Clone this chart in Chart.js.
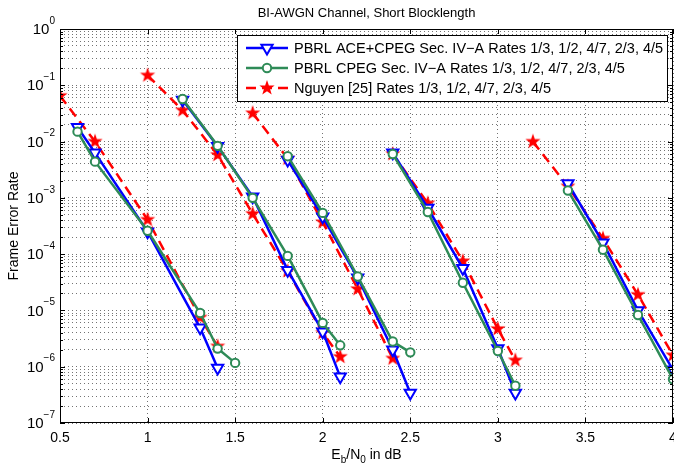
<!DOCTYPE html>
<html>
<head>
<meta charset="utf-8">
<script src="https://cdn.jsdelivr.net/npm/chart.js@4.4.1/dist/chart.umd.min.js"></script>
<style>
  html, body { margin: 0; padding: 0; background: #fff; }
  #fer { display: block; }
</style>
</head>
<body>
<canvas id="fer" width="674" height="468"></canvas>
<script>
const FONT = '"Liberation Sans", Arial, Helvetica, sans-serif';

// one inner array per code rate: 1/3, 1/2, 4/7, 2/3, 4/5
const rates = ["1/3", "1/2", "4/7", "2/3", "4/5"];

const aceSnr = [[0.6, 0.7, 1.0, 1.3, 1.4], [1.2, 1.4, 1.6, 1.8, 2.0, 2.1], [1.8, 2.0, 2.2, 2.4, 2.5], [2.4, 2.6, 2.8, 3.0, 3.1], [3.4, 3.6, 3.8, 4.0]];
const aceFer = [[1.8e-2, 6.3e-3, 2.5e-4, 4.9e-6, 9.5e-7], [5.5e-2, 8.3e-3, 1.05e-3, 5.2e-5, 4.2e-6, 6.6e-7], [4.7e-3, 4.6e-4, 3.8e-5, 2.0e-6, 3.4e-7], [6.3e-3, 6.6e-4, 5.6e-5, 2.1e-6, 3.4e-7], [1.8e-3, 1.6e-4, 1.0e-5, 8.8e-7]];

const cpegSnr = [[0.6, 0.7, 1.0, 1.3, 1.4, 1.5], [1.2, 1.4, 1.6, 1.8, 2.0, 2.1], [1.8, 2.0, 2.2, 2.4, 2.5], [2.4, 2.6, 2.8, 3.0, 3.1], [3.4, 3.6, 3.8, 4.0]];
const cpegFer = [[1.5e-2, 4.4e-3, 2.6e-4, 9.0e-6, 2.1e-6, 1.17e-6], [5.7e-2, 8.4e-3, 1.0e-3, 9.3e-5, 6.0e-6, 2.4e-6], [5.5e-3, 5.4e-4, 4.0e-5, 2.8e-6, 1.8e-6], [6.0e-3, 5.6e-4, 3.1e-5, 1.9e-6, 4.6e-7], [1.35e-3, 1.2e-4, 8.3e-6, 6.0e-7]];

const nguyenSnr = [[0.5, 0.7, 1.0, 1.3, 1.4], [1.0, 1.2, 1.4, 1.6, 1.8, 2.0, 2.1], [1.6, 1.8, 2.0, 2.2, 2.4], [2.4, 2.6, 2.8, 3.0, 3.1], [3.2, 3.4, 3.6, 3.8, 4.0]];
const nguyenFer = [[6.5e-2, 1.0e-2, 4.1e-4, 7.5e-6, 2.3e-6], [0.15, 3.6e-2, 5.8e-3, 5.2e-4, 5.0e-5, 4.0e-6, 1.5e-6], [3.2e-2, 5.0e-3, 3.7e-4, 2.4e-5, 1.4e-6], [6.0e-3, 8.0e-4, 7.5e-5, 4.7e-6, 1.3e-6], [1.0e-2, 1.6e-3, 1.9e-4, 1.9e-5, 1.6e-6]];

const xTicks = [0.5, 1, 1.5, 2, 2.5, 3, 3.5, 4];
const yDecades = [0, -1, -2, -3, -4, -5, -6, -7];

const rateText = " Rates " + rates.join(", ");
const labels = [
  "PBRL ACE+CPEG Sec. IV\u2212A" + rateText,
  "PBRL CPEG Sec. IV\u2212A" + rateText,
  "Nguyen [25]" + rateText
];

// put each rate curve after the other, broken by a null point
function joinCurves(snr, fer) {
  const pts = [];
  snr.forEach((xs, i) => {
    xs.forEach((x, j) => pts.push({x: x, y: fer[i][j]}));
    pts.push({x: xs[xs.length - 1], y: null});
  });
  return pts;
}

function starImage(r, color) {
  const c = document.createElement("canvas");
  const s = Math.ceil(2 * r + 2);
  c.width = s; c.height = s;
  const g = c.getContext("2d");
  g.beginPath();
  for (let i = 0; i < 10; i++) {
    const a = -Math.PI / 2 + i * Math.PI / 5;
    const rr = i % 2 ? r * 0.4 : r;
    g.lineTo(s / 2 + rr * Math.cos(a), s / 2 + rr * Math.sin(a));
  }
  g.closePath();
  g.fillStyle = color;
  g.fill();
  return c;
}
const star = starImage(8, "#ff0000");

const yGrid = [];
for (let k = -7; k < 0; k++) {
  for (let m = 1; m <= 9; m++) yGrid.push(m * Math.pow(10, k));
}
yGrid.push(1);

const blue = "#0000ff", green = "#2e8b57", red = "#ff0000";

const datasets = [
  {
    label: labels[0], data: joinCurves(aceSnr, aceFer), order: 1,
    borderColor: blue, borderWidth: 2.5,
    pointStyle: "triangle", rotation: 180, pointRadius: 6.5, pointBorderWidth: 2,
    pointBorderColor: blue, pointBackgroundColor: "#fff"
  },
  {
    label: labels[1], data: joinCurves(cpegSnr, cpegFer), order: 0,
    borderColor: green, borderWidth: 2.5,
    pointStyle: "circle", pointRadius: 4.2, pointBorderWidth: 2,
    pointBorderColor: green, pointBackgroundColor: "#fff"
  },
  {
    label: labels[2], data: joinCurves(nguyenSnr, nguyenFer), order: 2,
    borderColor: red, borderWidth: 2.5, borderDash: [10, 6],
    pointStyle: star, pointRadius: 8,
    pointBorderColor: red, pointBackgroundColor: red
  }
];

const frame = {
  id: "frame",
  afterDraw(chart) {
    const ctx = chart.ctx;
    const a = chart.chartArea;
    const xs = chart.scales.x, ys = chart.scales.y;
    ctx.save();
    ctx.strokeStyle = "#000";
    ctx.lineWidth = 1;
    ctx.strokeRect(Math.round(a.left) + 0.5, Math.round(a.top) + 0.5, Math.round(a.right - a.left) - 1, Math.round(a.bottom - a.top) - 1);

    // inward tick marks
    ctx.beginPath();
    xTicks.forEach(v => {
      const px = Math.round(xs.getPixelForValue(v)) + 0.5;
      ctx.moveTo(px, a.bottom); ctx.lineTo(px, a.bottom - 5);
      ctx.moveTo(px, a.top); ctx.lineTo(px, a.top + 5);
    });
    yGrid.forEach(v => {
      const py = Math.round(ys.getPixelForValue(v)) + 0.5;
      const major = Math.abs(Math.log10(v) - Math.round(Math.log10(v))) < 1e-9;
      const len = major ? 5 : 3;
      ctx.moveTo(a.left, py); ctx.lineTo(a.left + len, py);
      ctx.moveTo(a.right, py); ctx.lineTo(a.right - len, py);
    });
    ctx.stroke();

    ctx.fillStyle = "#000";
    ctx.textBaseline = "middle";

    // x tick labels
    ctx.font = "14px " + FONT;
    ctx.textAlign = "center";
    xTicks.forEach(v => {
      ctx.fillText(String(v), xs.getPixelForValue(v), a.bottom + 15);
    });

    // y tick labels 10^k
    yDecades.forEach(k => {
      const py = ys.getPixelForValue(Math.pow(10, k));
      const exp = k === 0 ? "0" : "\u2212" + (-k);
      ctx.font = "10px " + FONT;
      const ew = ctx.measureText(exp).width;
      ctx.textAlign = "left";
      ctx.fillText(exp, 55 - ew, py - 8);
      ctx.font = "15px " + FONT;
      ctx.textAlign = "right";
      ctx.fillText("10", 55 - ew, py + 1);
    });

    // title
    ctx.font = "13px " + FONT;
    ctx.textAlign = "center";
    ctx.fillText("BI-AWGN Channel, Short Blocklength", (a.left + a.right) / 2, 13);

    // x axis title with subscripts
    const parts = [["E", 0], ["b", 1], ["/N", 0], ["0", 1], [" in dB", 0]];
    let total = 0;
    parts.forEach(p => { ctx.font = (p[1] ? "10px " : "14px ") + FONT; total += ctx.measureText(p[0]).width; });
    let cx = (a.left + a.right) / 2 - total / 2;
    ctx.textAlign = "left";
    parts.forEach(p => {
      ctx.font = (p[1] ? "10px " : "14px ") + FONT;
      ctx.fillText(p[0], cx, p[1] ? 460 : 455);
      cx += ctx.measureText(p[0]).width;
    });

    // y axis title
    ctx.save();
    ctx.translate(14, (a.top + a.bottom) / 2);
    ctx.rotate(-Math.PI / 2);
    ctx.font = "14px " + FONT;
    ctx.textAlign = "center";
    ctx.fillText("Frame Error Rate", 0, 0);
    ctx.restore();

    // legend box
    const bx = 237.5, by = 35.5, bw = 430, bh = 66;
    ctx.fillStyle = "#fff";
    ctx.fillRect(bx, by, bw, bh);
    ctx.strokeStyle = "#000";
    ctx.lineWidth = 1;
    ctx.strokeRect(bx, by, bw, bh);
    const rows = [48, 68, 88];
    datasets.forEach((ds, r) => {
      const y = rows[r];
      ctx.save();
      ctx.strokeStyle = ds.borderColor;
      ctx.lineWidth = ds.borderWidth;
      ctx.setLineDash(ds.borderDash || []);
      ctx.beginPath();
      ctx.moveTo(246, y); ctx.lineTo(288, y);
      ctx.stroke();
      ctx.setLineDash([]);
      ctx.strokeStyle = ds.pointBorderColor;
      ctx.fillStyle = ds.pointBackgroundColor;
      ctx.lineWidth = ds.pointBorderWidth || 1;
      Chart.helpers.drawPoint(ctx, {
        pointStyle: ds.pointStyle, rotation: ds.rotation || 0,
        radius: ds.pointRadius, borderWidth: ds.pointBorderWidth || 0
      }, 267, y);
      ctx.restore();
      ctx.fillStyle = "#000";
      ctx.font = "14.5px " + FONT;
      ctx.textAlign = "left";
      ctx.textBaseline = "middle";
      ctx.fillText(ds.label, 294, y + 1);
    });
    ctx.restore();
  }
};

new Chart(document.getElementById("fer"), {
  type: "line",
  data: { datasets: datasets },
  plugins: [frame],
  options: {
    responsive: false,
    animation: false,
    devicePixelRatio: 1,
    spanGaps: false,
    layout: { autoPadding: false, padding: { top: 29, right: 1, left: 0, bottom: 0 } },
    plugins: {
      legend: { display: false },
      title: { display: false },
      tooltip: { enabled: false }
    },
    scales: {
      x: {
        type: "linear", min: 0.5, max: 4,
        ticks: { display: false, stepSize: 0.5 },
        grid: { color: "rgba(0,0,0,0.55)", drawTicks: false, lineWidth: 1 },
        border: { display: false, dash: [1, 3] },
        afterFit: s => { s.height = 45; }
      },
      y: {
        type: "logarithmic", min: 1e-7, max: 1,
        ticks: { display: false },
        grid: { color: "rgba(0,0,0,0.55)", drawTicks: false, lineWidth: 1 },
        border: { display: false, dash: [1, 3] },
        afterBuildTicks: s => { s.ticks = yGrid.map(v => ({ value: v })); },
        afterFit: s => { s.width = 60; }
      }
    }
  }
});
</script>
</body>
</html>
